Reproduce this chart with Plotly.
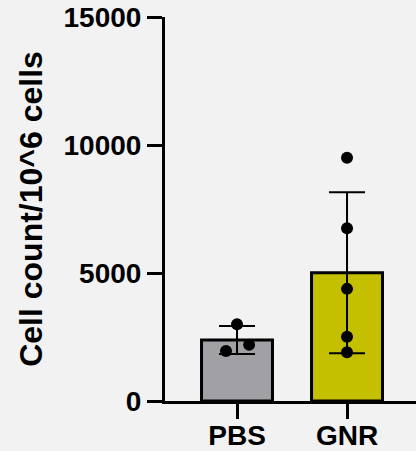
import numpy as np
import plotly.graph_objects as go

categories = ["PBS", "GNR"]
pbs_values = [1950, 3000, 2200]
gnr_values = [9500, 6750, 4380, 2510, 1900]
y_tick_values = [0, 5000, 10000, 15000]
y_tick_labels = ["0", "5000", "10000", "15000"]
y_title = "Cell count/10^6 cells"

series = [pbs_values, gnr_values]
bar_colors = ["#a1a1a5", "#c4c000"]
jitter = [[-0.10, 0.0, 0.11], [0, 0, 0, 0, 0]]

means = [float(np.mean(v)) for v in series]
sds = [float(np.std(v, ddof=1)) for v in series]

fig = go.Figure()
fig.add_trace(go.Bar(
    x=list(range(len(categories))), y=means, width=0.645,
    marker=dict(color=bar_colors, line=dict(color="black", width=3)),
    error_y=dict(type="data", array=sds, visible=True, color="black",
                 thickness=2, width=18),
    showlegend=False, hoverinfo="skip",
))
for i, vals in enumerate(series):
    fig.add_trace(go.Scatter(
        x=[i + j for j in jitter[i]], y=vals, mode="markers",
        marker=dict(color="black", size=12), showlegend=False,
    ))

font = dict(family="Liberation Sans, Arial, sans-serif", color="black", weight="bold")
fig.update_layout(
    width=416, height=451,
    margin=dict(l=165, r=0, t=17, b=50),
    paper_bgcolor="#f2f2f2", plot_bgcolor="#f2f2f2",
    font=font,
    xaxis=dict(range=[-0.6545, 1.627], tickvals=[0, 1], ticktext=categories,
               automargin=False, ticklabelstandoff=-8,
               showgrid=False, zeroline=False, showline=True, linecolor="black",
               linewidth=3, ticks="outside", ticklen=15, tickwidth=3,
               tickcolor="black", tickfont=dict(size=28, **font)),
    yaxis=dict(range=[0, 15000], tickvals=y_tick_values, ticktext=y_tick_labels,
               automargin=False,
               showgrid=False, zeroline=False, showline=True, linecolor="black",
               linewidth=3, ticks="outside", ticklen=15, tickwidth=3,
               tickcolor="black", tickfont=dict(size=28, **font),
               title=dict(text=y_title, font=dict(size=32, **font), standoff=12)),
)
fig.write_html(
    "out.html",
    config={"displayModeBar": False},
    post_script="document.body.style.margin='0';document.body.style.background='#f2f2f2';",
)
